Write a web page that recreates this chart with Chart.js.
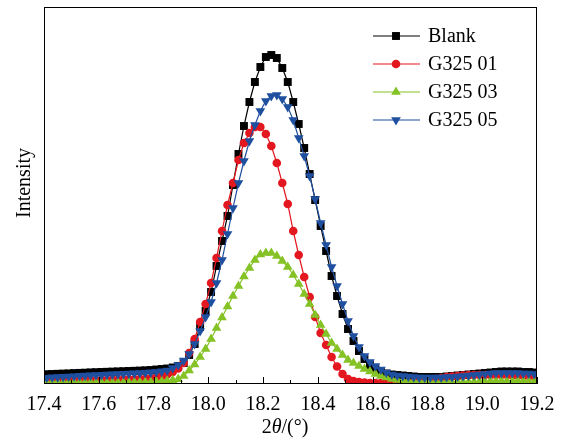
<!DOCTYPE html>
<html>
<head>
<meta charset="utf-8">
<script src="https://cdn.jsdelivr.net/npm/chart.js@4.4.1/dist/chart.umd.min.js"></script>
<style>
html, body { margin: 0; padding: 0; background: #fff; }
</style>
</head>
<body>
<canvas id="xrd-chart" width="566" height="441"></canvas>
<script>
// 2theta sampling (deg)
const theta = [
  17.39,17.41,17.43,17.45,17.47,17.49,17.51,17.53,17.55,17.57,
  17.59,17.61,17.63,17.65,17.67,17.69,17.71,17.73,17.75,17.77,
  17.79,17.81,17.83,17.85,17.87,17.89,17.91,17.93,17.95,17.97,
  17.99,18.01,18.03,18.05,18.07,18.09,18.11,18.13,18.15,18.17,
  18.19,18.21,18.23,18.25,18.27,18.29,18.31,18.33,18.35,18.37,
  18.39,18.41,18.43,18.45,18.47,18.49,18.51,18.53,18.55,18.57,
  18.59,18.61,18.63,18.65,18.67,18.69,18.71,18.73,18.75,18.77,
  18.79,18.81,18.83,18.85,18.87,18.89,18.91,18.93,18.95,18.97,
  18.99,19.01,19.03,19.05,19.07,19.09,19.11,19.13,19.15,19.17,
  19.19,19.21
];

// intensities (arbitrary units)
const blank = [
  9.5,9.8,10,10.2,10.4,10.6,10.9,11.1,11.3,11.6,
  11.8,12,12.2,12.4,12.6,12.8,13,13.2,13.4,13.7,
  14,14.5,15,15.5,16.5,18,21,29,40,57,
  73,92,118,143,168,199,230,258,282,302,
  317,327,329,326,316,302,282,260,236,210,
  184,158,133,108,88,70,55,43,33,25,
  19,15,12,10.5,9.5,9,8.5,8,7.5,7,
  7,7,7,7,7.5,8,8.5,9,9.5,10,
  10.5,11,11.5,12,12.5,12.5,12.5,12.5,12,12,
  11.5,11
];
const g01 = [
  3,3,3.1,3.2,3.3,3.4,3.5,3.6,3.7,3.8,
  3.9,4,4.1,4.2,4.3,4.4,4.6,4.8,5,5.3,
  5.7,6.5,7.7,9.5,12,15.5,21,31,45,62,
  80,101,126,153,179,201,224,241,251,257,
  257,250,238,221,201,180,153,129,107,87,
  67,51,39,27,17.5,10,5,3,2,1.5,
  1,1,1,1,1,1,1,1.5,2,2.5,
  3,4,5,6,7,7.5,8,8.5,9,9,
  9,9,9,9,9,9,8.5,8.5,8,8,
  7.5,7
];
const g03 = [
  1.5,1.5,1.5,1.5,1.5,1.5,1.5,1.5,1.5,1.5,
  1.5,1.5,1.5,1.5,1.5,1.5,1.6,1.7,1.8,1.9,
  2,2.3,2.7,3.2,3.8,4.8,8,13.5,19.5,27,
  35,45,56,66.5,77.5,88,98,107.5,116,124,
  129.5,131,131,128,123,117,109,100,90,80,
  69,59,50,41,35,29,24,21,18,15,
  12.5,10,8,6.5,5,4,3.5,3,2.5,2.5,
  2.2,2,2,2,2,2,2,2,2,2.2,
  2.4,2.6,2.8,3,3,3,3,3,2.8,2.6,
  2.5,2.4
];
const g05 = [
  6,6.3,6.6,6.9,7.2,7.5,7.8,8.1,8.4,8.6,
  8.9,9.1,9.4,9.6,9.9,10.1,10.4,10.7,11,11.3,
  11.7,12,12.7,13.5,16,19,23.5,30,40,53,
  67,82,101,124,150,176,201,223,243,259,
  273,283,288,289,285,277,264,246,228,208,
  185,161,139,117,98,80,63,48,37,28,
  22,18,14.5,11.5,9.5,8.5,8,7.5,7,6.5,
  6.5,6.5,6.5,6.5,7,7,7.5,8,8.5,9,
  9.5,10,10.5,11,11,11,11,11,10.5,10.5,
  10,10
];

const xTicks = [17.4, 17.6, 17.8, 18.0, 18.2, 18.4, 18.6, 18.8, 19.0, 19.2];

const names = ['Blank', 'G325 01', 'G325 03', 'G325 05'];
const colors = ['#000000', '#e3171f', '#84c225', '#1f4f9f'];
const markers = ['rect', 'circle', 'triangle', 'triangle'];
const rotations = [0, 0, 0, 180];
const radii = [5.6, 4.3, 5.6, 5.6];

const serif = "'Liberation Serif', 'Times New Roman', serif";

function pts(ys) {
  return ys.map((y, i) => ({x: theta[i], y: y}));
}

function drawMarker(ctx, style, x, y, r, rot) {
  ctx.beginPath();
  if (style === 'rect') {
    const s = r * Math.SQRT1_2;
    ctx.rect(x - s, y - s, 2 * s, 2 * s);
  } else if (style === 'circle') {
    ctx.arc(x, y, r, 0, Math.PI * 2);
  } else {
    const d = rot ? -1 : 1;
    ctx.moveTo(x, y - d * r);
    ctx.lineTo(x + r * 0.866, y + d * r / 2);
    ctx.lineTo(x - r * 0.866, y + d * r / 2);
    ctx.closePath();
  }
  ctx.fill();
}

// frame, inward ticks, titles and legend
const decor = {
  id: 'decor',
  afterDatasetsDraw(chart) {
    const {ctx, chartArea: a, scales: {x}} = chart;
    ctx.save();
    ctx.strokeStyle = '#000';
    ctx.lineWidth = 1;
    ctx.strokeRect(a.left + 0.5, a.top + 0.5, a.right - a.left - 1, a.bottom - a.top - 1);

    ctx.beginPath();
    for (let i = 0; i < xTicks.length; i++) {
      const px = Math.round(x.getPixelForValue(xTicks[i])) + 0.5;
      ctx.moveTo(px, a.bottom);
      ctx.lineTo(px, a.bottom - 7);
      if (i < xTicks.length - 1) {
        const mx = Math.round(x.getPixelForValue((xTicks[i] + xTicks[i + 1]) / 2)) + 0.5;
        ctx.moveTo(mx, a.bottom);
        ctx.lineTo(mx, a.bottom - 4);
      }
    }
    ctx.stroke();

    ctx.fillStyle = '#000';
    ctx.font = '20px ' + serif;

    // y title
    ctx.save();
    ctx.translate(25, 183);
    ctx.rotate(-Math.PI / 2);
    ctx.textAlign = 'center';
    ctx.textBaseline = 'middle';
    ctx.fillText('Intensity', 0, 0);
    ctx.restore();

    // x title: 2θ/(°) with italic theta
    const parts = [['2', ''], ['\u03B8', 'italic '], ['/(\u00B0)', '']];
    let w = 0;
    parts.forEach(p => { ctx.font = p[1] + '20px ' + serif; w += ctx.measureText(p[0]).width; });
    let tx = 285 - w / 2;
    ctx.textAlign = 'left';
    ctx.textBaseline = 'alphabetic';
    parts.forEach(p => {
      ctx.font = p[1] + '20px ' + serif;
      ctx.fillText(p[0], tx, 433);
      tx += ctx.measureText(p[0]).width;
    });

    // legend
    ctx.font = '20px ' + serif;
    ctx.textBaseline = 'middle';
    for (let i = 0; i < names.length; i++) {
      const ly = 36 + i * 28;
      ctx.strokeStyle = colors[i];
      ctx.fillStyle = colors[i];
      ctx.lineWidth = 1.2;
      ctx.beginPath();
      ctx.moveTo(373, ly);
      ctx.lineTo(420, ly);
      ctx.stroke();
      drawMarker(ctx, markers[i], 396, ly, radii[i], rotations[i]);
      ctx.fillStyle = '#000';
      ctx.fillText(names[i], 428, ly + 1);
    }
    ctx.restore();
  }
};

const series = [blank, g01, g03, g05];

new Chart(document.getElementById('xrd-chart'), {
  type: 'line',
  data: {
    datasets: series.map((ys, i) => ({
      label: names[i],
      data: pts(ys),
      borderColor: colors[i],
      backgroundColor: colors[i],
      borderWidth: 1.2,
      pointStyle: markers[i],
      pointRotation: rotations[i],
      pointRadius: radii[i],
      pointBorderWidth: 0,
      pointBackgroundColor: colors[i],
      tension: 0,
      order: 4 - i
    }))
  },
  options: {
    responsive: false,
    animation: false,
    layout: { padding: { top: 7, right: 29, left: 0, bottom: 0 } },
    scales: {
      x: {
        type: 'linear',
        min: 17.4,
        max: 19.2,
        afterBuildTicks: (scale) => { scale.ticks = xTicks.map(v => ({value: v})); },
        afterFit: (scale) => { scale.height = 57; },
        grid: { display: false, drawTicks: false },
        border: { display: false },
        ticks: {
          padding: 9,
          color: '#000',
          font: { family: serif, size: 20 },
          callback: (v) => Number(v).toFixed(1)
        }
      },
      y: {
        min: 0,
        max: 377,
        afterFit: (scale) => { scale.width = 44; },
        grid: { display: false, drawTicks: false },
        border: { display: false },
        ticks: { display: false }
      }
    },
    plugins: {
      legend: { display: false },
      tooltip: { enabled: false }
    }
  },
  plugins: [decor]
});
</script>
</body>
</html>
